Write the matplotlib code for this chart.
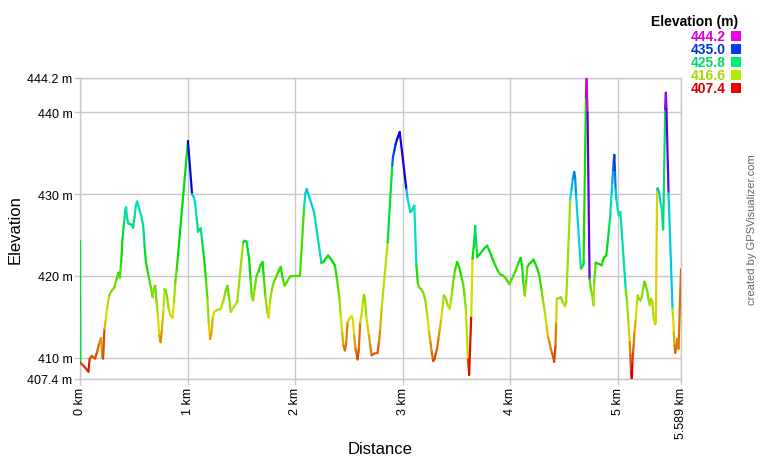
import numpy as np
import matplotlib
matplotlib.use("Agg")
import matplotlib.pyplot as plt
from matplotlib.collections import LineCollection
from matplotlib.colors import hsv_to_rgb
from matplotlib.patches import Rectangle

plt.rcParams['font.family'] = ['Liberation Sans', 'DejaVu Sans']

# track profile (km, m)
dist_km = [
    0.000, 0.003, 0.041, 0.078, 0.090, 0.109, 0.140, 0.159, 0.177, 0.196, 0.208, 0.215,
    0.227, 0.240, 0.252, 0.271, 0.289, 0.320, 0.339, 0.358, 0.370, 0.383, 0.395, 0.407,
    0.420, 0.429, 0.438, 0.451, 0.476, 0.494, 0.507, 0.519, 0.532, 0.550, 0.569, 0.588,
    0.600, 0.613, 0.625, 0.644, 0.662, 0.675, 0.687, 0.700, 0.712, 0.725, 0.737, 0.749,
    0.762, 0.774, 0.787, 0.799, 0.812, 0.824, 0.843, 0.861, 0.874, 0.886, 0.899, 0.911,
    1.004, 1.042,
    1.060, 1.073, 1.085, 1.098, 1.110, 1.123, 1.135, 1.147, 1.160, 1.172, 1.185, 1.197,
    1.210, 1.222, 1.235, 1.247, 1.272, 1.309, 1.334, 1.353, 1.371, 1.384, 1.402, 1.430,
    1.462, 1.517, 1.530, 1.549, 1.561, 1.573, 1.586, 1.598, 1.611, 1.623,
    1.642, 1.661, 1.679, 1.698, 1.710, 1.723, 1.741, 1.754, 1.766, 1.785, 1.804, 1.828,
    1.847, 1.866, 1.884, 1.903, 1.922, 1.947, 1.965, 2.046, 2.083, 2.096,
    2.108, 2.121, 2.177, 2.245, 2.264, 2.289, 2.307,
    2.326, 2.351, 2.370, 2.388, 2.401, 2.413, 2.425, 2.438, 2.450, 2.463, 2.475, 2.488,
    2.506, 2.525, 2.537, 2.550, 2.562, 2.575, 2.581, 2.593, 2.606, 2.618, 2.631, 2.640,
    2.649, 2.662, 2.674, 2.687, 2.699, 2.712, 2.736, 2.767, 2.780, 2.792, 2.805,
    2.861, 2.904, 2.910, 2.923, 2.935, 2.948, 2.960,
    2.973, 3.035, 3.047, 3.060, 3.072, 3.085, 3.097, 3.109,
    3.128, 3.141, 3.153, 3.172, 3.190, 3.209, 3.221, 3.234, 3.246, 3.259, 3.271,
    3.284, 3.296, 3.308, 3.321, 3.333, 3.346, 3.358, 3.371, 3.383, 3.396, 3.408, 3.420,
    3.439, 3.451, 3.464, 3.476, 3.489, 3.507, 3.526, 3.545, 3.563, 3.576, 3.588,
    3.607, 3.619, 3.638, 3.650, 3.663, 3.675, 3.682, 3.694, 3.719,
    3.744, 3.769, 3.787, 3.806, 3.825, 3.843, 3.862, 3.887, 3.905, 3.930, 3.955, 3.974,
    3.993, 4.011, 4.030, 4.055, 4.080, 4.098, 4.111, 4.123, 4.136, 4.148, 4.160, 4.179,
    4.198, 4.216, 4.235, 4.254, 4.272, 4.291, 4.304, 4.316, 4.328, 4.341, 4.353, 4.366,
    4.378, 4.391, 4.403, 4.409, 4.422, 4.428, 4.434, 4.453, 4.471, 4.490, 4.509, 4.521,
    4.559, 4.571, 4.583, 4.596, 4.605, 4.614,
    4.658, 4.670, 4.683, 4.705, 4.711, 4.720, 4.739, 4.751,
    4.764, 4.776, 4.782, 4.795, 4.820, 4.851, 4.863, 4.876, 4.894, 4.907, 4.919, 4.932,
    4.938, 4.944, 4.950, 4.957, 4.963, 4.969, 4.975, 4.981, 4.988, 5.000, 5.012, 5.025,
    5.075, 5.087, 5.100, 5.112, 5.118, 5.124, 5.131, 5.137,
    5.143, 5.149, 5.156, 5.168, 5.180, 5.187, 5.199, 5.211, 5.224, 5.236, 5.249, 5.261,
    5.274, 5.286, 5.299, 5.311, 5.323, 5.336, 5.348, 5.355, 5.367, 5.373, 5.386,
    5.398, 5.410, 5.423, 5.442, 5.448, 5.454, 5.473,
    5.510, 5.516, 5.522, 5.529, 5.535, 5.541, 5.554, 5.566,
    5.589,
]
elev_m = [
    424.3, 409.4, 408.9, 408.3, 409.9, 410.2, 409.9, 410.7, 411.7, 412.4, 410.1, 409.9,
    413.5, 414.7, 416.0, 417.6, 418.1, 418.6, 419.6, 420.4, 419.8, 421.7, 424.5, 426.1,
    427.9, 428.4, 427.0, 426.4, 426.3, 425.9, 427.2, 428.6, 429.1, 428.2, 427.4, 426.1,
    423.7, 421.7, 420.8, 419.6, 418.4, 417.4, 418.4, 418.8, 416.8, 415.1, 412.7, 411.9,
    413.5, 415.6, 418.4, 418.2, 417.2, 416.0, 415.1, 414.9, 416.8, 419.2, 420.8, 422.5,
    436.5, 430.0,
    429.6, 428.6, 427.0, 425.4, 425.7, 425.8, 424.3, 422.9, 421.3, 419.4, 417.2, 414.3,
    412.3, 413.1, 414.9, 415.6, 415.8, 416.0, 417.0, 418.1, 418.8, 417.6, 415.6, 416.2,
    416.8, 424.1, 424.3, 424.2, 423.1, 422.1, 419.6, 417.4, 417.0, 418.4,
    420.0, 420.6, 421.3, 421.7, 419.8, 417.6, 415.6, 414.9, 416.8, 418.4, 419.3, 420.0,
    420.6, 421.1, 419.8, 418.8, 419.2, 419.8, 420.0, 420.0, 428.2, 430.1,
    430.6, 430.1, 427.8, 421.6, 421.7, 422.2, 422.5,
    422.2, 421.7, 421.3, 419.8, 418.4, 417.2, 415.1, 413.1, 411.5, 410.9, 411.7, 414.3,
    414.8, 415.1, 414.7, 412.7, 411.1, 410.3, 409.8, 411.1, 414.3, 415.3, 416.8, 417.7,
    417.2, 415.1, 413.9, 412.7, 411.5, 410.3, 410.5, 410.6, 411.9, 413.5, 416.0,
    424.1, 433.5, 434.5, 435.3, 436.1, 436.7, 437.1,
    437.6, 430.6, 429.4, 428.6, 427.8, 428.0, 428.3, 428.6,
    421.3, 419.2, 418.6, 418.4, 418.0, 417.2, 416.0, 414.7, 413.1, 411.9, 410.7,
    409.6, 409.8, 410.5, 411.1, 412.3, 413.5, 414.7, 416.0, 417.6, 417.4, 417.0, 416.4,
    416.0, 417.2, 418.4, 419.8, 420.8, 421.7, 421.1, 420.0, 419.0, 417.6, 416.0,
    409.8, 407.9, 415.1, 422.1, 423.7, 426.1, 424.5, 422.3, 422.7,
    423.1, 423.5, 423.7, 423.1, 422.5, 421.9, 421.3, 420.6, 420.2, 420.1, 419.8, 419.4,
    419.0, 419.5, 420.0, 420.8, 421.7, 422.2, 421.3, 419.2, 417.6, 419.2, 421.1, 421.5,
    421.7, 422.0, 421.5, 420.8, 420.0, 418.4, 417.2, 416.2, 415.1, 413.7, 412.5, 411.9,
    411.1, 410.5, 410.0, 409.5, 411.5, 414.3, 417.2, 417.3, 417.4, 416.8, 416.3, 416.8,
    429.4, 430.6, 431.9, 432.7, 431.9, 429.8,
    420.9, 421.1, 421.5, 441.8, 444.1, 440.0, 419.6, 418.4,
    417.6, 416.4, 419.2, 421.6, 421.5, 421.3, 421.9, 422.3, 422.5, 424.1, 425.7, 427.4,
    429.0, 430.2, 431.4, 432.9, 433.9, 434.8, 432.7, 430.6, 429.4, 428.2, 427.4, 427.8,
    418.4, 416.8, 414.3, 411.9, 410.3, 408.2, 407.4, 409.4,
    410.7, 411.5, 413.1, 414.7, 416.8, 417.6, 417.2, 417.0, 417.4, 418.4, 419.3, 418.8,
    418.2, 417.2, 416.4, 417.2, 416.8, 414.7, 414.1, 414.3, 430.6, 430.7, 430.2,
    429.0, 428.2, 425.7, 440.4, 442.4, 440.4, 430.2,
    416.0, 414.7, 413.1, 411.5, 410.6, 411.1, 412.3, 411.1,
    420.8,
]

y_ticks = [407.4, 410, 420, 430, 440, 444.2]
y_tick_labels = ['407.4 m', '410 m', '420 m', '430 m', '440 m', '444.2 m']
x_ticks = [0, 1, 2, 3, 4, 5, 5.589]
x_tick_labels = ['0 km', '1 km', '2 km', '3 km', '4 km', '5 km', '5.589 km']
legend_values = ['444.2', '435.0', '425.8', '416.6', '407.4']

ymin, ymax = 407.4, 444.2
xmax = 5.589
GRID = '#c8c8c8'


def elev_color(v, bright=0.87):
    # hue runs red -> magenta over the elevation range
    h = (v - ymin) / (ymax - ymin) * 300.0 / 360.0
    h = min(max(h, 0), 300.0 / 360.0)
    return hsv_to_rgb((h, 1.0, bright))


fig = plt.figure(figsize=(7.6, 4.6), dpi=100)
ax = fig.add_axes([80 / 760, 1 - 380 / 460, 601 / 760, 301 / 460])

x = np.array(dist_km)
y = np.array(elev_m)
pts = np.column_stack([x, y]).reshape(-1, 1, 2)
segs = np.concatenate([pts[:-1], pts[1:]], axis=1)
# each leg takes the colour of the point it starts from
cols = [elev_color(v) for v in y[:-1]]
lc = LineCollection(segs, colors=cols, linewidths=1.6, capstyle='round', zorder=3)
ax.add_collection(lc)

ax.set_xlim(0, xmax)
ax.set_ylim(ymin, ymax)
ax.set_xticks(x_ticks)
ax.set_xticklabels(x_tick_labels, rotation=90, fontsize=9)
ax.set_yticks(y_ticks)
ax.set_yticklabels(y_tick_labels, fontsize=9)
ax.tick_params(axis='both', color=GRID, length=4, width=1, pad=1.5, labelcolor='#000000')
ax.grid(True, color=GRID, linewidth=1, zorder=0)
for s in ax.spines.values():
    s.set_color(GRID)
    s.set_linewidth(1)

# axis titles placed where the reference has them
fig.text(380 / 760, 1 - 450 / 460, 'Distance', ha='center', va='center', fontsize=12)
fig.text(15 / 760, 1 - 230 / 460, 'Elevation', ha='center', va='center', fontsize=12,
         rotation=90)

# legend block, top right
fig.text(738 / 760, 1 - 22 / 460, 'Elevation (m)', ha='right', va='center',
         fontsize=10, fontweight='bold')
for i, lab in enumerate(legend_values):
    yy = 37 + i * 12.9
    v = float(lab)
    fig.text(726 / 760, 1 - yy / 460, lab, ha='right', va='center', fontsize=10,
             fontweight='bold', color=elev_color(v, 0.85))
    fig.patches.append(Rectangle((731 / 760, 1 - (yy + 5) / 460), 10 / 760, 10 / 460,
                                 transform=fig.transFigure, facecolor=elev_color(v, 0.93),
                                 edgecolor='none'))

fig.text(752 / 760, 1 - 230 / 460, 'created by GPSVisualizer.com', rotation=90,
         ha='center', va='center', fontsize=8, color='#666666')

fig.savefig('out.png', dpi=100)
